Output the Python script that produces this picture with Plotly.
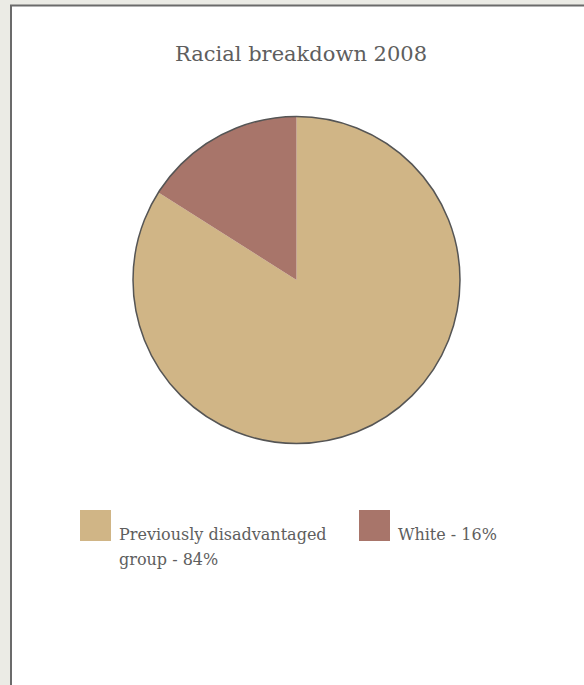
import plotly.graph_objects as go

# Data
groups = ['Previously disadvantaged<br>group - 84%', 'White - 16%']
shares = [84, 16]
colours = ['#d0b586', '#a8756a']

W, H = 584, 685
FONT = 'DejaVu Serif'
TEXT = '#5e5e5e'

def px(x):
    return x / W

def py(y):
    return 1 - y / H

cx, cy, r = 296.5, 280, 163.5
dom_x = [px(cx - r), px(cx + r)]
dom_y = [py(cy + r), py(cy - r)]

fig = go.Figure(go.Pie(
    labels=groups, values=shares, sort=False, direction='clockwise',
    marker=dict(colors=colours, line=dict(width=0)),
    textinfo='none', hoverinfo='label', showlegend=False,
    domain=dict(x=dom_x, y=dom_y),
))

shapes = [
    # white panel with border
    dict(type='rect', xref='paper', yref='paper', x0=px(11), x1=px(W + 20),
         y0=py(H + 20), y1=py(5.5), fillcolor='white',
         line=dict(color='#6b6b6b', width=2), layer='below'),
    # outline of the pie
    dict(type='circle', xref='paper', yref='paper', x0=dom_x[0], x1=dom_x[1],
         y0=dom_y[0], y1=dom_y[1], line=dict(color='#555555', width=1.5)),
]
annotations = []

# manual legend with large swatches
leg_x = [80, 359]
leg_size = 16
for i, (g, c) in enumerate(zip(groups, colours)):
    x0 = leg_x[i]
    shapes.append(dict(type='rect', xref='paper', yref='paper', x0=px(x0), x1=px(x0 + 31),
                       y0=py(541), y1=py(510), fillcolor=c, line=dict(width=0)))
    for j, line in enumerate(g.split('<br>')):
        base = 540 + 25 * j
        annotations.append(dict(text=line, xref='paper', yref='paper', x=px(x0 + 37),
                                y=py(base - 0.33 * leg_size), xanchor='left', yanchor='middle',
                                showarrow=False, align='left',
                                font=dict(family=FONT, size=leg_size, color=TEXT)))

fig.update_layout(
    width=W, height=H, margin=dict(l=0, r=0, t=0, b=0),
    paper_bgcolor='#ebebe5',
    title=dict(text='Racial breakdown 2008', x=px(301), xanchor='center',
               y=py(61 - 0.33 * 21), yanchor='middle',
               font=dict(family=FONT, size=21, color=TEXT)),
    shapes=shapes, annotations=annotations,
)

fig.write_html('out.html', config={'displayModeBar': False},
               post_script="document.body.style.margin='0';")
